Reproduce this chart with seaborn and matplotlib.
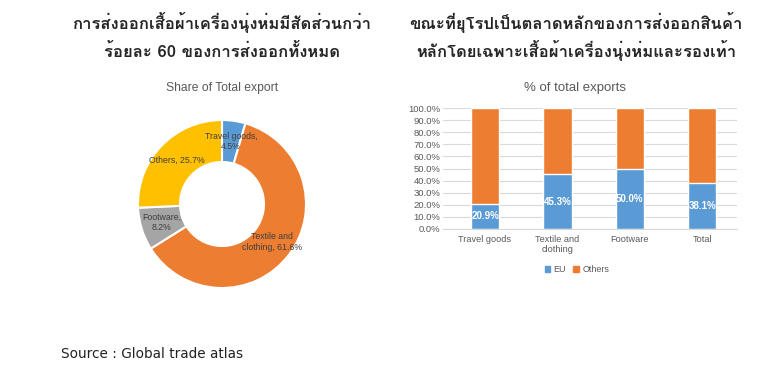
import matplotlib
matplotlib.use("Agg")
import matplotlib.pyplot as plt
from matplotlib import font_manager, ft2font
from matplotlib.patches import Patch
import seaborn as sns
import pandas as pd

# ---- data ----
pie_labels = ["Travel goods", "Textile and clothing", "Footware", "Others"]
pie_values = [4.5, 61.6, 8.2, 25.7]
pie_colors = ["#5B9BD5", "#ED7D31", "#A5A5A5", "#FFC000"]

bar_categories = ["Travel goods", "Textile and\nclothing", "Footware", "Total"]
eu_share = [20.9, 45.3, 50.0, 38.1]
total_share = [100.0, 100.0, 100.0, 100.0]
y_ticks = [0, 10, 20, 30, 40, 50, 60, 70, 80, 90, 100]

title_left = ["การส่งออกเสื้อผ้าเครื่องนุ่งห่มมีสัดส่วนกว่า", "ร้อยละ 60 ของการส่งออกทั้งหมด"]
title_right = ["ขณะที่ยุโรปเป็นตลาดหลักของการส่งออกสินค้า", "หลักโดยเฉพาะเสื้อผ้าเครื่องนุ่งห่มและรองเท้า"]
source_text = "Source : Global trade atlas"

sns.set_style("white")

thai_font = None
for f in font_manager.fontManager.ttflist:
    try:
        ft = ft2font.FT2Font(f.fname)
        if 0x0E01 in ft.get_charmap():
            thai_font = f.name
            break
    except Exception:
        pass
base = ["Liberation Sans", "DejaVu Sans"]
thai_family = ([thai_font] if thai_font else []) + ["DejaVu Sans"]
plt.rcParams["font.family"] = base

W, H = 760, 366
fig = plt.figure(figsize=(W / 100, H / 100), dpi=100)
fig.patch.set_facecolor("white")

def box(l, t, r, b):
    return [l / W, 1 - b / H, (r - l) / W, (b - t) / H]

# ---- donut ----
axp = fig.add_axes(box(138, 120, 306, 288))
wedges, texts = axp.pie(
    pie_values, labels=pie_labels,
    colors=pie_colors, startangle=90, counterclock=False,
    wedgeprops=dict(width=0.5, edgecolor="white", linewidth=1.5),
    labeldistance=0.75,
)
for t, lab, v in zip(texts, pie_labels, pie_values):
    if lab.startswith("Textile"):
        txt = f"Textile and\nclothing, {v}%"
    elif lab == "Others":
        txt = f"Others, {v}%"
    else:
        txt = f"{lab},\n{v}%"
    t.set_text(txt)
    t.set_ha("center"); t.set_va("center")
    t.set_fontsize(6.3); t.set_color("#404040")
axp.set_xlim(-1, 1); axp.set_ylim(-1, 1)
axp.set_aspect("equal")
fig.text(222 / W, 1 - 88 / H, "Share of Total export", ha="center", va="center",
         fontsize=8.7, color="#595959")

# ---- stacked bars ----
df = pd.DataFrame({"cat": bar_categories, "eu": eu_share, "tot": total_share})
axb = fig.add_axes(box(443, 108, 737, 229))
sns.barplot(data=df, x="cat", y="tot", color="#ED7D31", width=0.39, ax=axb,
            saturation=1)
sns.barplot(data=df, x="cat", y="eu", color="#5B9BD5", width=0.39, ax=axb,
            saturation=1)
axb.set_xlim(-0.58, 3.48)
axb.set_ylim(0, 100)
axb.set_yticks(y_ticks)
axb.set_yticklabels([f"{v:.1f}%" for v in y_ticks])
axb.grid(axis="y", color="#D9D9D9", linewidth=0.8)
axb.set_axisbelow(True)
for s in ["top", "right", "left"]:
    axb.spines[s].set_visible(False)
axb.spines["bottom"].set_color("#D9D9D9")
axb.tick_params(axis="y", length=0, labelsize=6.8, labelcolor="#595959", pad=2)
axb.tick_params(axis="x", length=0, labelsize=6.6, labelcolor="#595959", pad=4)
axb.set_xlabel(""); axb.set_ylabel("")
for i, v in enumerate(eu_share):
    axb.text(i, v / 2, f"{v}%", ha="center", va="center", color="white",
             fontsize=7, fontweight="bold")
fig.text(575 / W, 1 - 88 / H, "% of total exports", ha="center", va="center",
         fontsize=9.5, color="#595959")
fig.legend(handles=[Patch(color="#5B9BD5", label="EU"),
                    Patch(color="#ED7D31", label="Others")],
           loc="center", bbox_to_anchor=(577 / W, 1 - 270 / H), ncol=2,
           frameon=False, fontsize=6.5, handlelength=0.6, handleheight=0.6,
           handletextpad=0.4, columnspacing=0.8, labelcolor="#595959")

# ---- titles ----
for lines, cx in [(title_left, 222), (title_right, 576)]:
    for line, yb in zip(lines, [29, 57]):
        fig.text(cx / W, 1 - yb / H, line, ha="center", va="baseline",
                 fontsize=12, fontweight="bold", family=thai_family)
fig.text(61 / W, 1 - 354 / H, source_text, ha="left", va="center",
         fontsize=9.8, color="#222222", family=["DejaVu Sans"])

fig.savefig("out.png", dpi=100, facecolor="white")
